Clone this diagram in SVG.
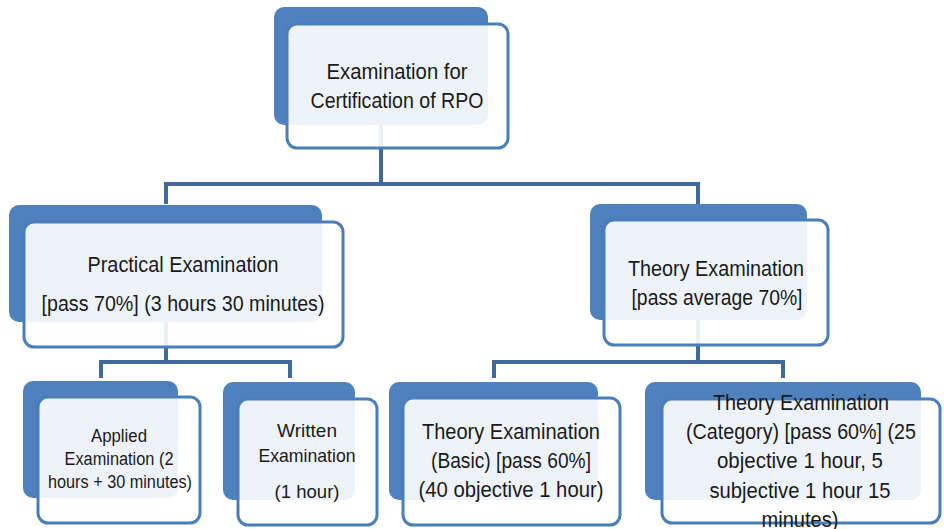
<svg xmlns="http://www.w3.org/2000/svg" width="944" height="529" viewBox="0 0 944 529">
<style>
.back{fill:#4f81bd}
.front{fill:#ffffff;fill-opacity:0.9;stroke:#4a7ebb;stroke-width:3}
.conn{fill:none;stroke:#41699c;stroke-width:4;stroke-linejoin:miter}
.t{font-family:"Liberation Sans",Arial,sans-serif;font-size:22px;fill:#1a1a1a;text-anchor:middle}
.s{font-family:"Liberation Sans",Arial,sans-serif;font-size:18px;fill:#1a1a1a;text-anchor:middle}
</style>
<rect width="944" height="529" fill="#ffffff"/>
<g id="connectors">
<path class="conn" d="M381 125 V184 M166 184 H698 M166 182 V204 M698 182 V204"/>
<path class="conn" d="M166 322 V362 M101 362 H290 M101 360 V378 M290 360 V378"/>
<path class="conn" d="M698 320 V362 M494 362 H783 M494 360 V378 M783 360 V378"/>
</g>
<g id="node-root">
<rect class="back" x="274" y="7" width="214" height="118" rx="10"/>
<rect class="front" x="287" y="24" width="221" height="124" rx="10"/>
<text class="t" x="397" y="79" textLength="141" lengthAdjust="spacingAndGlyphs">Examination for</text>
<text class="t" x="397" y="108" textLength="173" lengthAdjust="spacingAndGlyphs">Certification of RPO</text>
</g>
<g id="node-practical">
<rect class="back" x="9" y="205" width="313" height="117" rx="10"/>
<rect class="front" x="24" y="222" width="319" height="125" rx="10"/>
<text class="t" x="183" y="272" textLength="191" lengthAdjust="spacingAndGlyphs">Practical Examination</text>
<text class="t" x="183" y="311" textLength="283" lengthAdjust="spacingAndGlyphs">[pass 70%] (3 hours 30 minutes)</text>
</g>
<g id="node-theory">
<rect class="back" x="590" y="204" width="217" height="116" rx="10"/>
<rect class="front" x="604" y="220" width="224" height="125" rx="10"/>
<text class="t" x="716" y="276" textLength="176" lengthAdjust="spacingAndGlyphs">Theory Examination</text>
<text class="t" x="717" y="305" textLength="171" lengthAdjust="spacingAndGlyphs">[pass average 70%]</text>
</g>
<g id="node-applied">
<rect class="back" x="23" y="381" width="155" height="117" rx="10"/>
<rect class="front" x="38" y="397" width="162" height="126" rx="10"/>
<text class="s" x="119" y="442" textLength="56" lengthAdjust="spacingAndGlyphs">Applied</text>
<text class="s" x="119" y="465" textLength="109" lengthAdjust="spacingAndGlyphs">Examination (2</text>
<text class="s" x="120" y="488" textLength="144" lengthAdjust="spacingAndGlyphs">hours + 30 minutes)</text>
</g>
<g id="node-written">
<rect class="back" x="223" y="382" width="132" height="118" rx="10"/>
<rect class="front" x="238" y="399" width="139" height="126" rx="10"/>
<text class="t" x="307" y="437" textLength="60" lengthAdjust="spacingAndGlyphs" style="font-size:19px">Written</text>
<text class="t" x="307" y="462" textLength="97" lengthAdjust="spacingAndGlyphs" style="font-size:19px">Examination</text>
<text class="t" x="307" y="498" textLength="65" lengthAdjust="spacingAndGlyphs" style="font-size:19px">(1 hour)</text>
</g>
<g id="node-basic">
<rect class="back" x="389" y="382" width="209" height="118" rx="10"/>
<rect class="front" x="403" y="398" width="217" height="127" rx="10"/>
<text class="t" x="511" y="439" textLength="178" lengthAdjust="spacingAndGlyphs">Theory Examination</text>
<text class="t" x="511" y="468" textLength="160" lengthAdjust="spacingAndGlyphs">(Basic) [pass 60%]</text>
<text class="t" x="511" y="497" textLength="185" lengthAdjust="spacingAndGlyphs">(40 objective 1 hour)</text>
</g>
<g id="node-category">
<rect class="back" x="645" y="382" width="276" height="118" rx="10"/>
<rect class="front" x="662" y="399" width="278" height="124" rx="10"/>
<text class="t" x="801" y="410" textLength="176" lengthAdjust="spacingAndGlyphs">Theory Examination</text>
<text class="t" x="801" y="439" textLength="230" lengthAdjust="spacingAndGlyphs">(Category) [pass 60%] (25</text>
<text class="t" x="800" y="468" textLength="166" lengthAdjust="spacingAndGlyphs">objective 1 hour, 5</text>
<text class="t" x="800" y="498" textLength="181" lengthAdjust="spacingAndGlyphs">subjective 1 hour 15</text>
<text class="t" x="800" y="527" textLength="77" lengthAdjust="spacingAndGlyphs">minutes)</text>
</g>
</svg>
